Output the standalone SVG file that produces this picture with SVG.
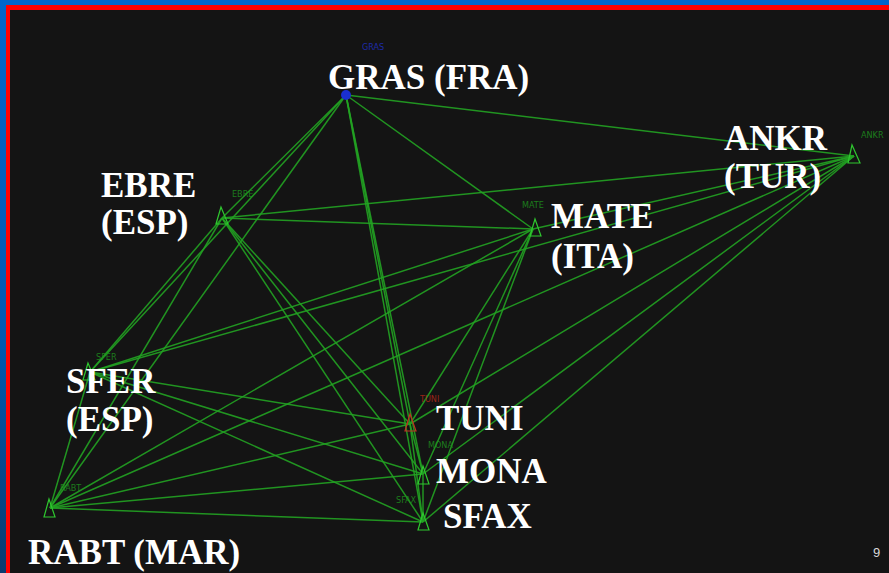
<svg xmlns="http://www.w3.org/2000/svg" width="889" height="573" viewBox="0 0 889 573">
  <defs>
    <linearGradient id="sideBlue" x1="0" y1="0" x2="0" y2="1">
      <stop offset="0" stop-color="#0066cc"/>
      <stop offset="0.6" stop-color="#0058b0"/>
      <stop offset="1" stop-color="#0b3a6e"/>
    </linearGradient>
    <style>
      .edge { stroke: #22a222; stroke-width: 1.5; fill: none; stroke-opacity: 0.9; }
      .mark { stroke: #2fc82f; stroke-width: 1.2; fill: none; }
      .big { font-family: "Liberation Serif", "Times New Roman", serif; font-weight: bold; font-size: 35px; fill: #ffffff; }
      .tag { font-family: "DejaVu Sans Condensed", "Liberation Sans", sans-serif; font-size: 9px; fill: #1f8f1f; opacity: 0.85; }
      .pg { font-family: "Liberation Sans", Arial, sans-serif; font-size: 13px; fill: #d8d8d8; }
    </style>
  </defs>

  <!-- slide frame -->
  <rect x="0" y="0" width="889" height="573" fill="#141414"/>
  <rect x="0" y="0" width="889" height="5" fill="#0066cc"/>
  <rect x="0" y="0" width="6" height="573" fill="url(#sideBlue)"/>
  <rect x="6" y="5" width="883" height="5" fill="#ff0000"/>
  <rect x="6" y="5" width="4" height="568" fill="#ff0000"/>

  <!-- baselines (full network) -->
  <g id="connectors">
    <!-- GRAS -->
    <line class="edge" x1="346" y1="95" x2="854" y2="156"/>
    <line class="edge" x1="346" y1="95" x2="222" y2="218"/>
    <line class="edge" x1="346" y1="95" x2="533" y2="229"/>
    <line class="edge" x1="346" y1="95" x2="90" y2="372"/>
    <line class="edge" x1="346" y1="95" x2="410" y2="424"/>
    <line class="edge" x1="346" y1="95" x2="423" y2="474"/>
    <line class="edge" x1="346" y1="95" x2="423" y2="522"/>
    <line class="edge" x1="346" y1="95" x2="50" y2="508"/>
    <!-- ANKR -->
    <line class="edge" x1="854" y1="156" x2="222" y2="218"/>
    <line class="edge" x1="854" y1="156" x2="533" y2="229"/>
    <line class="edge" x1="854" y1="156" x2="90" y2="372"/>
    <line class="edge" x1="854" y1="156" x2="410" y2="424"/>
    <line class="edge" x1="854" y1="156" x2="423" y2="474"/>
    <line class="edge" x1="854" y1="156" x2="423" y2="522"/>
    <line class="edge" x1="854" y1="156" x2="50" y2="508"/>
    <!-- EBRE -->
    <line class="edge" x1="222" y1="218" x2="533" y2="229"/>
    <line class="edge" x1="222" y1="218" x2="90" y2="372"/>
    <line class="edge" x1="222" y1="218" x2="410" y2="424"/>
    <line class="edge" x1="222" y1="218" x2="423" y2="474"/>
    <line class="edge" x1="222" y1="218" x2="423" y2="522"/>
    <line class="edge" x1="222" y1="218" x2="50" y2="508"/>
    <!-- MATE -->
    <line class="edge" x1="533" y1="229" x2="90" y2="372"/>
    <line class="edge" x1="533" y1="229" x2="410" y2="424"/>
    <line class="edge" x1="533" y1="229" x2="423" y2="474"/>
    <line class="edge" x1="533" y1="229" x2="423" y2="522"/>
    <line class="edge" x1="533" y1="229" x2="50" y2="508"/>
    <!-- SFER -->
    <line class="edge" x1="90" y1="372" x2="410" y2="424"/>
    <line class="edge" x1="90" y1="372" x2="423" y2="474"/>
    <line class="edge" x1="90" y1="372" x2="423" y2="522"/>
    <line class="edge" x1="90" y1="372" x2="50" y2="508"/>
    <!-- TUNI / MONA / SFAX / RABT -->
    <line class="edge" x1="410" y1="424" x2="423" y2="474"/>
    <line class="edge" x1="410" y1="424" x2="423" y2="522"/>
    <line class="edge" x1="410" y1="424" x2="50" y2="508"/>
    <line class="edge" x1="423" y1="474" x2="423" y2="522"/>
    <line class="edge" x1="423" y1="474" x2="50" y2="508"/>
    <line class="edge" x1="423" y1="522" x2="50" y2="508"/>
  </g>

  <!-- stations -->
  <g id="GRAS">
    <circle cx="346" cy="95" r="5" fill="#1a2fd0"/>
    <text class="tag" x="362" y="50" style="fill:#2030c0">GRAS</text>
    <text class="big" x="328" y="89">GRAS (FRA)</text>
  </g>
  <g id="ANKR">
    <path class="mark" d="M852 145 L848 163 L860 163 Z"/>
    <text class="tag" x="861" y="138">ANKR</text>
    <text class="big" x="724" y="150">ANKR</text>
    <text class="big" x="724" y="188">(TUR)</text>
  </g>
  <g id="EBRE">
    <path class="mark" d="M221 207 L216 224 L228 224 Z"/>
    <text class="tag" x="232" y="197">EBRE</text>
    <text class="big" x="101" y="197">EBRE</text>
    <text class="big" x="101" y="234">(ESP)</text>
  </g>
  <g id="MATE">
    <path class="mark" d="M535 219 L530 236 L541 236 Z"/>
    <text class="tag" x="522" y="208">MATE</text>
    <text class="big" x="551" y="228">MATE</text>
    <text class="big" x="551" y="268">(ITA)</text>
  </g>
  <g id="SFER">
    <path class="mark" d="M88 363 L83 380 L95 380 Z"/>
    <text class="tag" x="96" y="360">SFER</text>
    <text class="big" x="66" y="393">SFER</text>
    <text class="big" x="66" y="431">(ESP)</text>
  </g>
  <g id="TUNI">
    <path class="mark" d="M410 414 L405 431 L416 431 Z" style="stroke:#c03020"/>
    <text class="tag" x="420" y="402" style="fill:#b02818">TUNI</text>
    <text class="big" x="436" y="430">TUNI</text>
  </g>
  <g id="MONA">
    <path class="mark" d="M423 466 L418 484 L429 484 Z"/>
    <text class="tag" x="428" y="448">MONA</text>
    <text class="big" x="436" y="483">MONA</text>
  </g>
  <g id="SFAX">
    <path class="mark" d="M423 513 L418 530 L429 530 Z"/>
    <text class="tag" x="396" y="503">SFAX</text>
    <text class="big" x="443" y="528">SFAX</text>
  </g>
  <g id="RABT">
    <path class="mark" d="M49 499 L44 517 L55 517 Z"/>
    <text class="tag" x="60" y="491">RABT</text>
    <text class="big" x="28" y="564">RABT (MAR)</text>
  </g>

  <text class="pg" x="873" y="557">9</text>
</svg>
